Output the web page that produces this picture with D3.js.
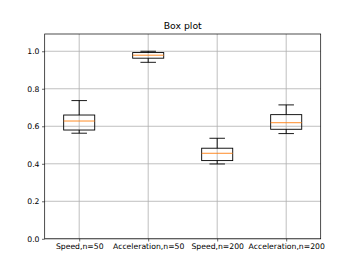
<!DOCTYPE html>
<html><head><meta charset="utf-8">
<script src="https://cdn.jsdelivr.net/npm/d3@7"></script>
<style>body{margin:0;background:#fff}svg{display:block}text{font-family:"DejaVu Sans",sans-serif}</style>
</head><body>
<svg id="c" width="356" height="268"></svg>
<script>
const categories = ["Speed,n=50","Acceleration,n=50","Speed,n=200","Acceleration,n=200"];
const whiskerLow = [0.563, 0.941, 0.399, 0.561];
const q1 = [0.580, 0.963, 0.417, 0.584];
const median = [0.628, 0.979, 0.456, 0.619];
const q3 = [0.660, 0.993, 0.483, 0.662];
const whiskerHigh = [0.737, 1.000, 0.536, 0.714];
const yTicks = [0.0, 0.2, 0.4, 0.6, 0.8, 1.0];
const title = "Box plot";

const svg = d3.select("#c");
const L = 44.7, R = 320.7, T = 34, B = 238.8;
const x = d3.scaleLinear().domain([0.5, 4.5]).range([L, R]);
const y = d3.scaleLinear().domain([0, 1.092]).range([B, T]);
const bw = 0.45, cw = 0.225;

// grid
const g = svg.append("g");
g.selectAll(".gx").data(categories).enter().append("line")
  .attr("x1",(d,i)=>x(i+1)).attr("x2",(d,i)=>x(i+1)).attr("y1",T).attr("y2",B)
  .attr("stroke","#b0b0b0").attr("stroke-width",0.8);
g.selectAll(".gy").data(yTicks).enter().append("line")
  .attr("x1",L).attr("x2",R).attr("y1",d=>y(d)).attr("y2",d=>y(d))
  .attr("stroke","#b0b0b0").attr("stroke-width",0.8);

// boxes
const data = categories.map((c,i)=>({c,i,lo:whiskerLow[i],q1:q1[i],md:median[i],q3:q3[i],hi:whiskerHigh[i]}));
const bx = svg.append("g").selectAll("g").data(data).enter().append("g");
const sw = 0.9;
bx.append("line").attr("x1",d=>x(d.i+1)).attr("x2",d=>x(d.i+1)).attr("y1",d=>y(d.q3)).attr("y2",d=>y(d.hi)).attr("stroke","#000").attr("stroke-width",sw);
bx.append("line").attr("x1",d=>x(d.i+1)).attr("x2",d=>x(d.i+1)).attr("y1",d=>y(d.q1)).attr("y2",d=>y(d.lo)).attr("stroke","#000").attr("stroke-width",sw);
bx.append("line").attr("x1",d=>x(d.i+1-cw/2)).attr("x2",d=>x(d.i+1+cw/2)).attr("y1",d=>y(d.hi)).attr("y2",d=>y(d.hi)).attr("stroke","#000").attr("stroke-width",sw);
bx.append("line").attr("x1",d=>x(d.i+1-cw/2)).attr("x2",d=>x(d.i+1+cw/2)).attr("y1",d=>y(d.lo)).attr("y2",d=>y(d.lo)).attr("stroke","#000").attr("stroke-width",sw);
bx.append("rect").attr("x",d=>x(d.i+1-bw/2)).attr("width",d=>x(d.i+1+bw/2)-x(d.i+1-bw/2))
  .attr("y",d=>y(d.q3)).attr("height",d=>y(d.q1)-y(d.q3)).attr("fill","none").attr("stroke","#000").attr("stroke-width",sw);
bx.append("line").attr("x1",d=>x(d.i+1-bw/2)).attr("x2",d=>x(d.i+1+bw/2)).attr("y1",d=>y(d.md)).attr("y2",d=>y(d.md)).attr("stroke","#ff7f0e").attr("stroke-width",sw);

// axes
const xa = svg.append("g").attr("transform",`translate(0,${B})`)
  .call(d3.axisBottom(x).tickValues([1,2,3,4]).tickFormat((d)=>categories[d-1]).tickSize(2.7).tickPadding(2.5));
const ya = svg.append("g").attr("transform",`translate(${L},0)`)
  .call(d3.axisLeft(y).tickValues(yTicks).tickFormat(d3.format(".1f")).tickSize(2.7).tickPadding(2.5));
[xa,ya].forEach(a=>{a.select(".domain").remove();a.selectAll("text").attr("font-size","7.7px").attr("fill","#000").attr("font-family","DejaVu Sans");a.selectAll(".tick line").attr("stroke","#000").attr("stroke-width",0.6);});

svg.append("rect").attr("x",L).attr("y",T).attr("width",R-L).attr("height",B-T).attr("fill","none").attr("stroke","#000").attr("stroke-width",0.7);

svg.append("text").attr("x",(L+R)/2).attr("y",T-5).attr("text-anchor","middle").attr("font-size","9.3px").attr("fill","#000").text(title);
</script>
</body></html>
